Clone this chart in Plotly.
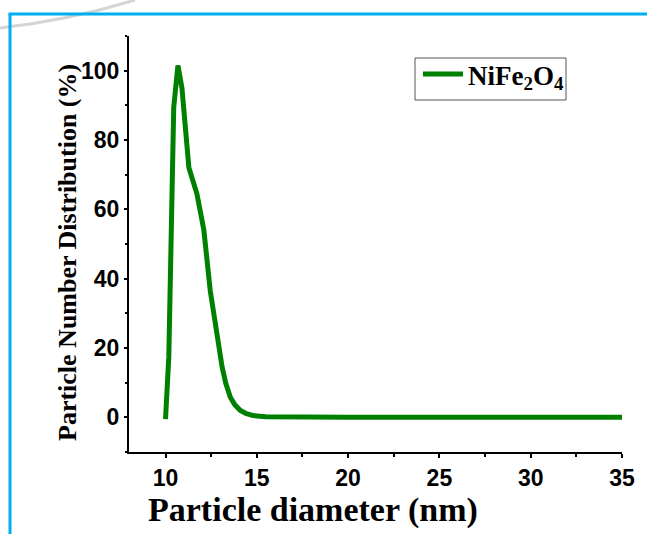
import plotly.graph_objects as go

diameter_nm = [10.0, 10.18, 10.45, 10.68, 10.9, 11.28, 11.72, 12.1, 12.45, 12.75, 13.1, 13.3,
               13.55, 13.8, 14.1, 14.4, 14.8, 15.5, 16.5, 18, 20, 25, 30, 35]
distribution_pct = [-0.5, 17.5, 89.5, 101.5, 95, 72, 64.5, 54, 36.5, 26, 14.5, 9.8,
                    5.8, 3.6, 2.0, 1.1, 0.5, 0.2, 0.1, 0.05, 0.0, 0.0, 0.0, 0.0]
series_name = "NiFe<sub>2</sub>O<sub>4</sub>"
x_title = "Particle diameter (nm)"
y_title = "Particle Number Distribution (%)"
x_ticks = [10, 15, 20, 25, 30, 35]
y_ticks = [0, 20, 40, 60, 80, 100]

W, H = 647, 534
L, R, T, B = 129, 25, 36, 82
pw, ph = W - L - R, H - T - B

def px(x):
    return (x - L) / pw

def py(y):
    return (H - B - y) / ph

fig = go.Figure()
fig.add_trace(go.Scatter(
    x=diameter_nm, y=distribution_pct, mode="lines", name=series_name,
    line=dict(color="#008000", width=5), showlegend=True,
))

tick_font = dict(family="Liberation Sans, Arial", size=23, color="black", weight="bold")
serif = "Liberation Serif, Times New Roman"

fig.update_layout(
    template="none",
    width=W, height=H,
    margin=dict(l=L, r=R, t=T, b=B, autoexpand=False),
    paper_bgcolor="white", plot_bgcolor="white",
    showlegend=True,
    legend=dict(
        x=px(418), y=py(50), xanchor="left", yanchor="top",
        borderwidth=0, bgcolor="rgba(0,0,0,0)",
        font=dict(family=serif, size=27, color="black", weight="bold"),
        itemwidth=40, tracegroupgap=0,
    ),
    xaxis=dict(
        range=[8, 35], tickvals=x_ticks, ticktext=[str(v) for v in x_ticks],
        showgrid=False, zeroline=False, showline=True, linecolor="black", linewidth=2,
        ticks="outside", ticklen=4, tickwidth=2, tickcolor="black",
        minor=dict(dtick=2.5, tick0=10, ticks="outside", ticklen=3, tickwidth=1.5, tickcolor="black"),
        tickfont=tick_font, automargin=False,
    ),
    yaxis=dict(
        range=[-10, 110], tickvals=y_ticks, ticktext=[str(v) for v in y_ticks],
        showgrid=False, zeroline=False, showline=True, linecolor="black", linewidth=2,
        ticks="outside", ticklen=3, tickwidth=2, tickcolor="black",
        minor=dict(dtick=10, tick0=10, ticks="outside", ticklen=2, tickwidth=1.5, tickcolor="black"),
        tickfont=tick_font, automargin=False,
    ),
    annotations=[
        dict(text=x_title, xref="paper", yref="paper", x=px(313), y=py(510),
             xanchor="center", yanchor="middle", showarrow=False,
             font=dict(family=serif, size=34, color="black", weight="bold")),
        dict(text=y_title, xref="paper", yref="paper", x=px(67), y=py(253),
             xanchor="center", yanchor="middle", showarrow=False, textangle=-90,
             font=dict(family=serif, size=26, color="black", weight="bold")),
    ],
    shapes=[
        dict(type="rect", xref="paper", yref="paper", x0=px(415), x1=px(566), y0=py(58), y1=py(100),
             line=dict(color="#555555", width=1), fillcolor="rgba(0,0,0,0)"),
        dict(type="line", xref="paper", yref="paper", x0=px(8.5), x1=px(W), y0=py(14), y1=py(14),
             line=dict(color="#00AEEF", width=3)),
        dict(type="line", xref="paper", yref="paper", x0=px(10), x1=px(10), y0=py(14), y1=py(H),
             line=dict(color="#00AEEF", width=3)),
        dict(type="path", xref="paper", yref="paper", layer="below",
             path="M {},{} Q {},{} {},{}".format(px(0), py(28), px(70), py(20), px(135), py(0)),
             line=dict(color="#D5D5D5", width=3)),
    ],
)

fig.write_html("out.html", config={"displayModeBar": False},
               post_script="document.body.style.margin='0px';document.body.style.overflow='hidden';")
